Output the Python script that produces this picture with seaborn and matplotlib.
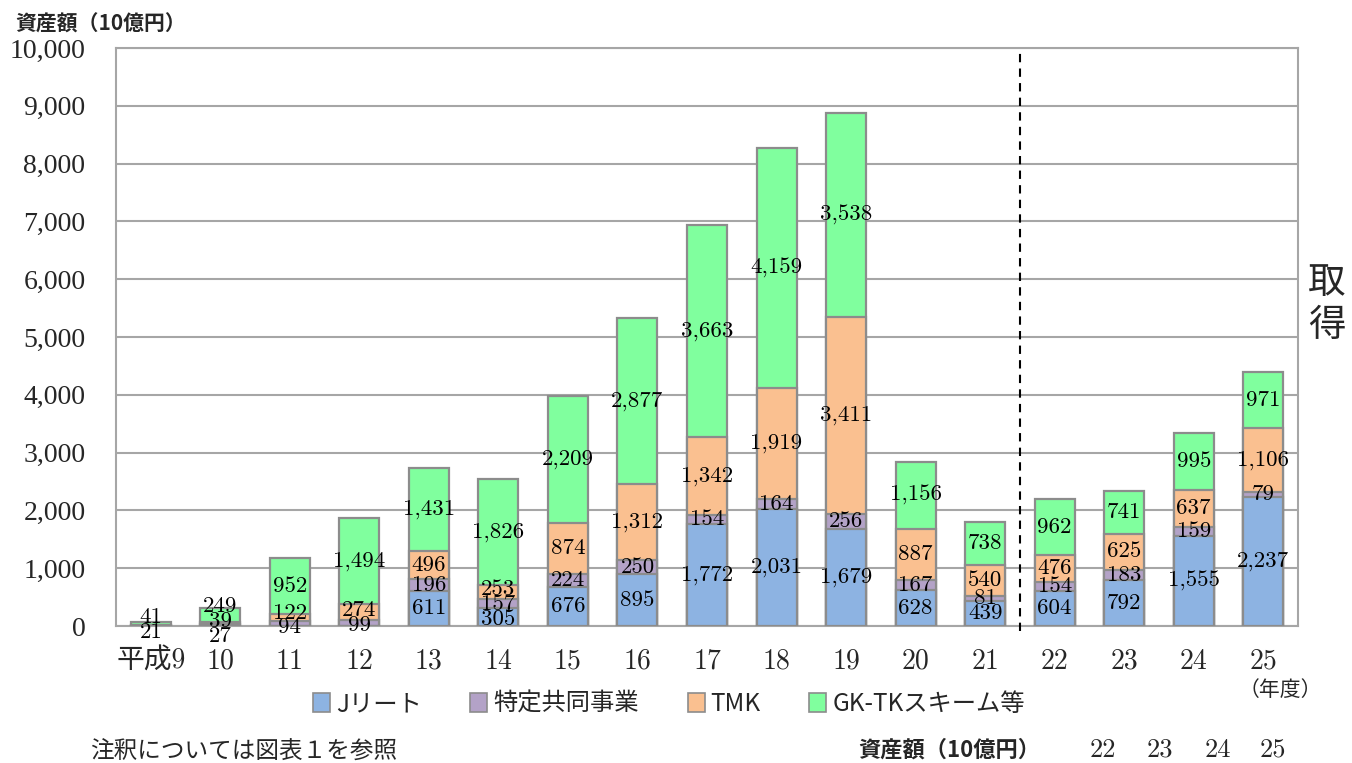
import matplotlib
matplotlib.use("Agg")
import matplotlib.pyplot as plt
from matplotlib.patches import Patch
from matplotlib.ticker import FuncFormatter
import numpy as np
import pandas as pd
import seaborn as sns

# Acquired assets by vehicle type (unit: 10億円)
years = ["平成9", "10", "11", "12", "13", "14", "15", "16", "17",
         "18", "19", "20", "21", "22", "23", "24", "25"]
jreit = [0, 0, 0, 0, 611, 305, 676, 895, 1772, 2031, 1679, 628, 439, 604, 792, 1555, 2237]
tokutei = [21, 27, 94, 99, 196, 157, 224, 250, 154, 164, 256, 167, 81, 154, 183, 159, 79]
tmk = [0, 39, 122, 274, 496, 253, 874, 1312, 1342, 1919, 3411, 887, 540, 476, 625, 637, 1106]
gktk = [41, 249, 952, 1494, 1431, 1826, 2209, 2877, 3663, 4159, 3538, 1156, 738, 962, 741, 995, 971]

series_names = ["Jリート", "特定共同事業", "TMK", "GK-TKスキーム等"]
series_vals = [jreit, tokutei, tmk, gktk]
colors = ["#8DB3E2", "#B3A2C7", "#FAC090", "#80FF9E"]
edge = "#8C8C8C"

table_years = ["22", "23", "24", "25"]

sns.set_theme(style="white")
SERIF = ["cmr10", "Noto Sans CJK JP"]
TICKF = ["Liberation Serif", "Noto Sans CJK JP"]
JP = ["Noto Sans CJK JP"]
plt.rcParams["font.family"] = SERIF
plt.rcParams["axes.unicode_minus"] = False
plt.rcParams["axes.formatter.use_mathtext"] = False

fig = plt.figure(figsize=(13.52, 7.63), dpi=100)
ax = fig.add_axes([116 / 1352, 1 - 626 / 763, (1298 - 116) / 1352, (626 - 48) / 763])

df = pd.DataFrame({"year": years})
cum = np.zeros(len(years))
cums = []
for vals in series_vals:
    cum = cum + np.array(vals, dtype=float)
    cums.append(cum.copy())

# Stack by drawing cumulative totals from the top series downwards
for i in range(len(series_vals) - 1, -1, -1):
    df["total"] = cums[i]
    sns.barplot(data=df, x="year", y="total", color=colors[i], width=0.575,
                edgecolor=edge, linewidth=1.6, saturation=1, ax=ax, zorder=3)

ax.set_xlim(-0.5, len(years) - 0.5)
ax.set_ylim(0, 10000)
ax.set_yticks(np.arange(0, 10001, 1000))
ax.yaxis.set_major_formatter(FuncFormatter(lambda v, p: f"{int(v):,}"))
ax.grid(axis="y", color="#A6A6A6", linewidth=1.5, zorder=0)
ax.set_axisbelow(True)
for s in ax.spines.values():
    s.set_color("#A6A6A6")
    s.set_linewidth(1.5)
ax.set_xlabel("")
ax.set_ylabel("")
ax.tick_params(axis="y", length=0, pad=22, labelsize=20)
ax.tick_params(axis="x", length=0, pad=16, labelsize=20)
for t in ax.get_yticklabels():
    t.set_fontfamily(TICKF)
for t in ax.get_xticklabels():
    t.set_fontfamily(SERIF)

# Value labels at segment centres, spread apart where segments are thin
gap = 255
for j in range(len(years)):
    items = []
    base = 0.0
    for vals in series_vals:
        v = vals[j]
        if v > 0:
            items.append([base + v / 2.0, v])
        base += v
    for _ in range(80):
        for k in range(len(items) - 1):
            d = items[k + 1][0] - items[k][0]
            if d < gap:
                push = (gap - d) / 2.0
                items[k][0] -= push
                items[k + 1][0] += push
    for ypos, v in items:
        ax.text(j, ypos, f"{v:,}", ha="center", va="center", fontsize=16.5,
                family=SERIF, color="black", zorder=5, clip_on=False)

# Separator between the periods
ax.axvline(12.5, ymin=-0.008, ymax=1, color="black", linestyle=(0, (4, 3)),
           linewidth=1.5, zorder=4, clip_on=False)

fig.text(15 / 1352, 1 - 24 / 763, "資産額（10億円）", fontsize=15, fontweight="bold",
         family=JP, ha="left", va="center")
fig.text(1280 / 1352, 1 - 690 / 763, "（年度）", fontsize=15, family=JP,
         ha="center", va="center")
fig.text(1327 / 1352, 1 - 304 / 763, "取\n得", fontsize=27, family=JP,
         ha="center", va="center", linespacing=1.15)

handles = [Patch(facecolor=c, edgecolor=edge, linewidth=1.2) for c in colors]
leg = fig.legend(handles, series_names, loc="center", ncol=4,
                 bbox_to_anchor=(669 / 1352, 1 - 704 / 763), frameon=False,
                 handlelength=0.7, handleheight=0.8, handletextpad=0.25,
                 columnspacing=2.0, prop={"family": JP, "size": 17.5})

fig.text(90 / 1352, 1 - 752 / 763, "注釈については図表１を参照", fontsize=17,
         family=JP, ha="left", va="center")
fig.text(858 / 1352, 1 - 750 / 763, "資産額（10億円）", fontsize=16,
         fontweight="bold", family=JP, ha="left", va="center")
for x, lab in zip([1103, 1160, 1218, 1273], table_years):
    fig.text(x / 1352, 1 - 750 / 763, lab, fontsize=19, family=SERIF,
             ha="center", va="center")

fig.savefig("out.png", dpi=100)
